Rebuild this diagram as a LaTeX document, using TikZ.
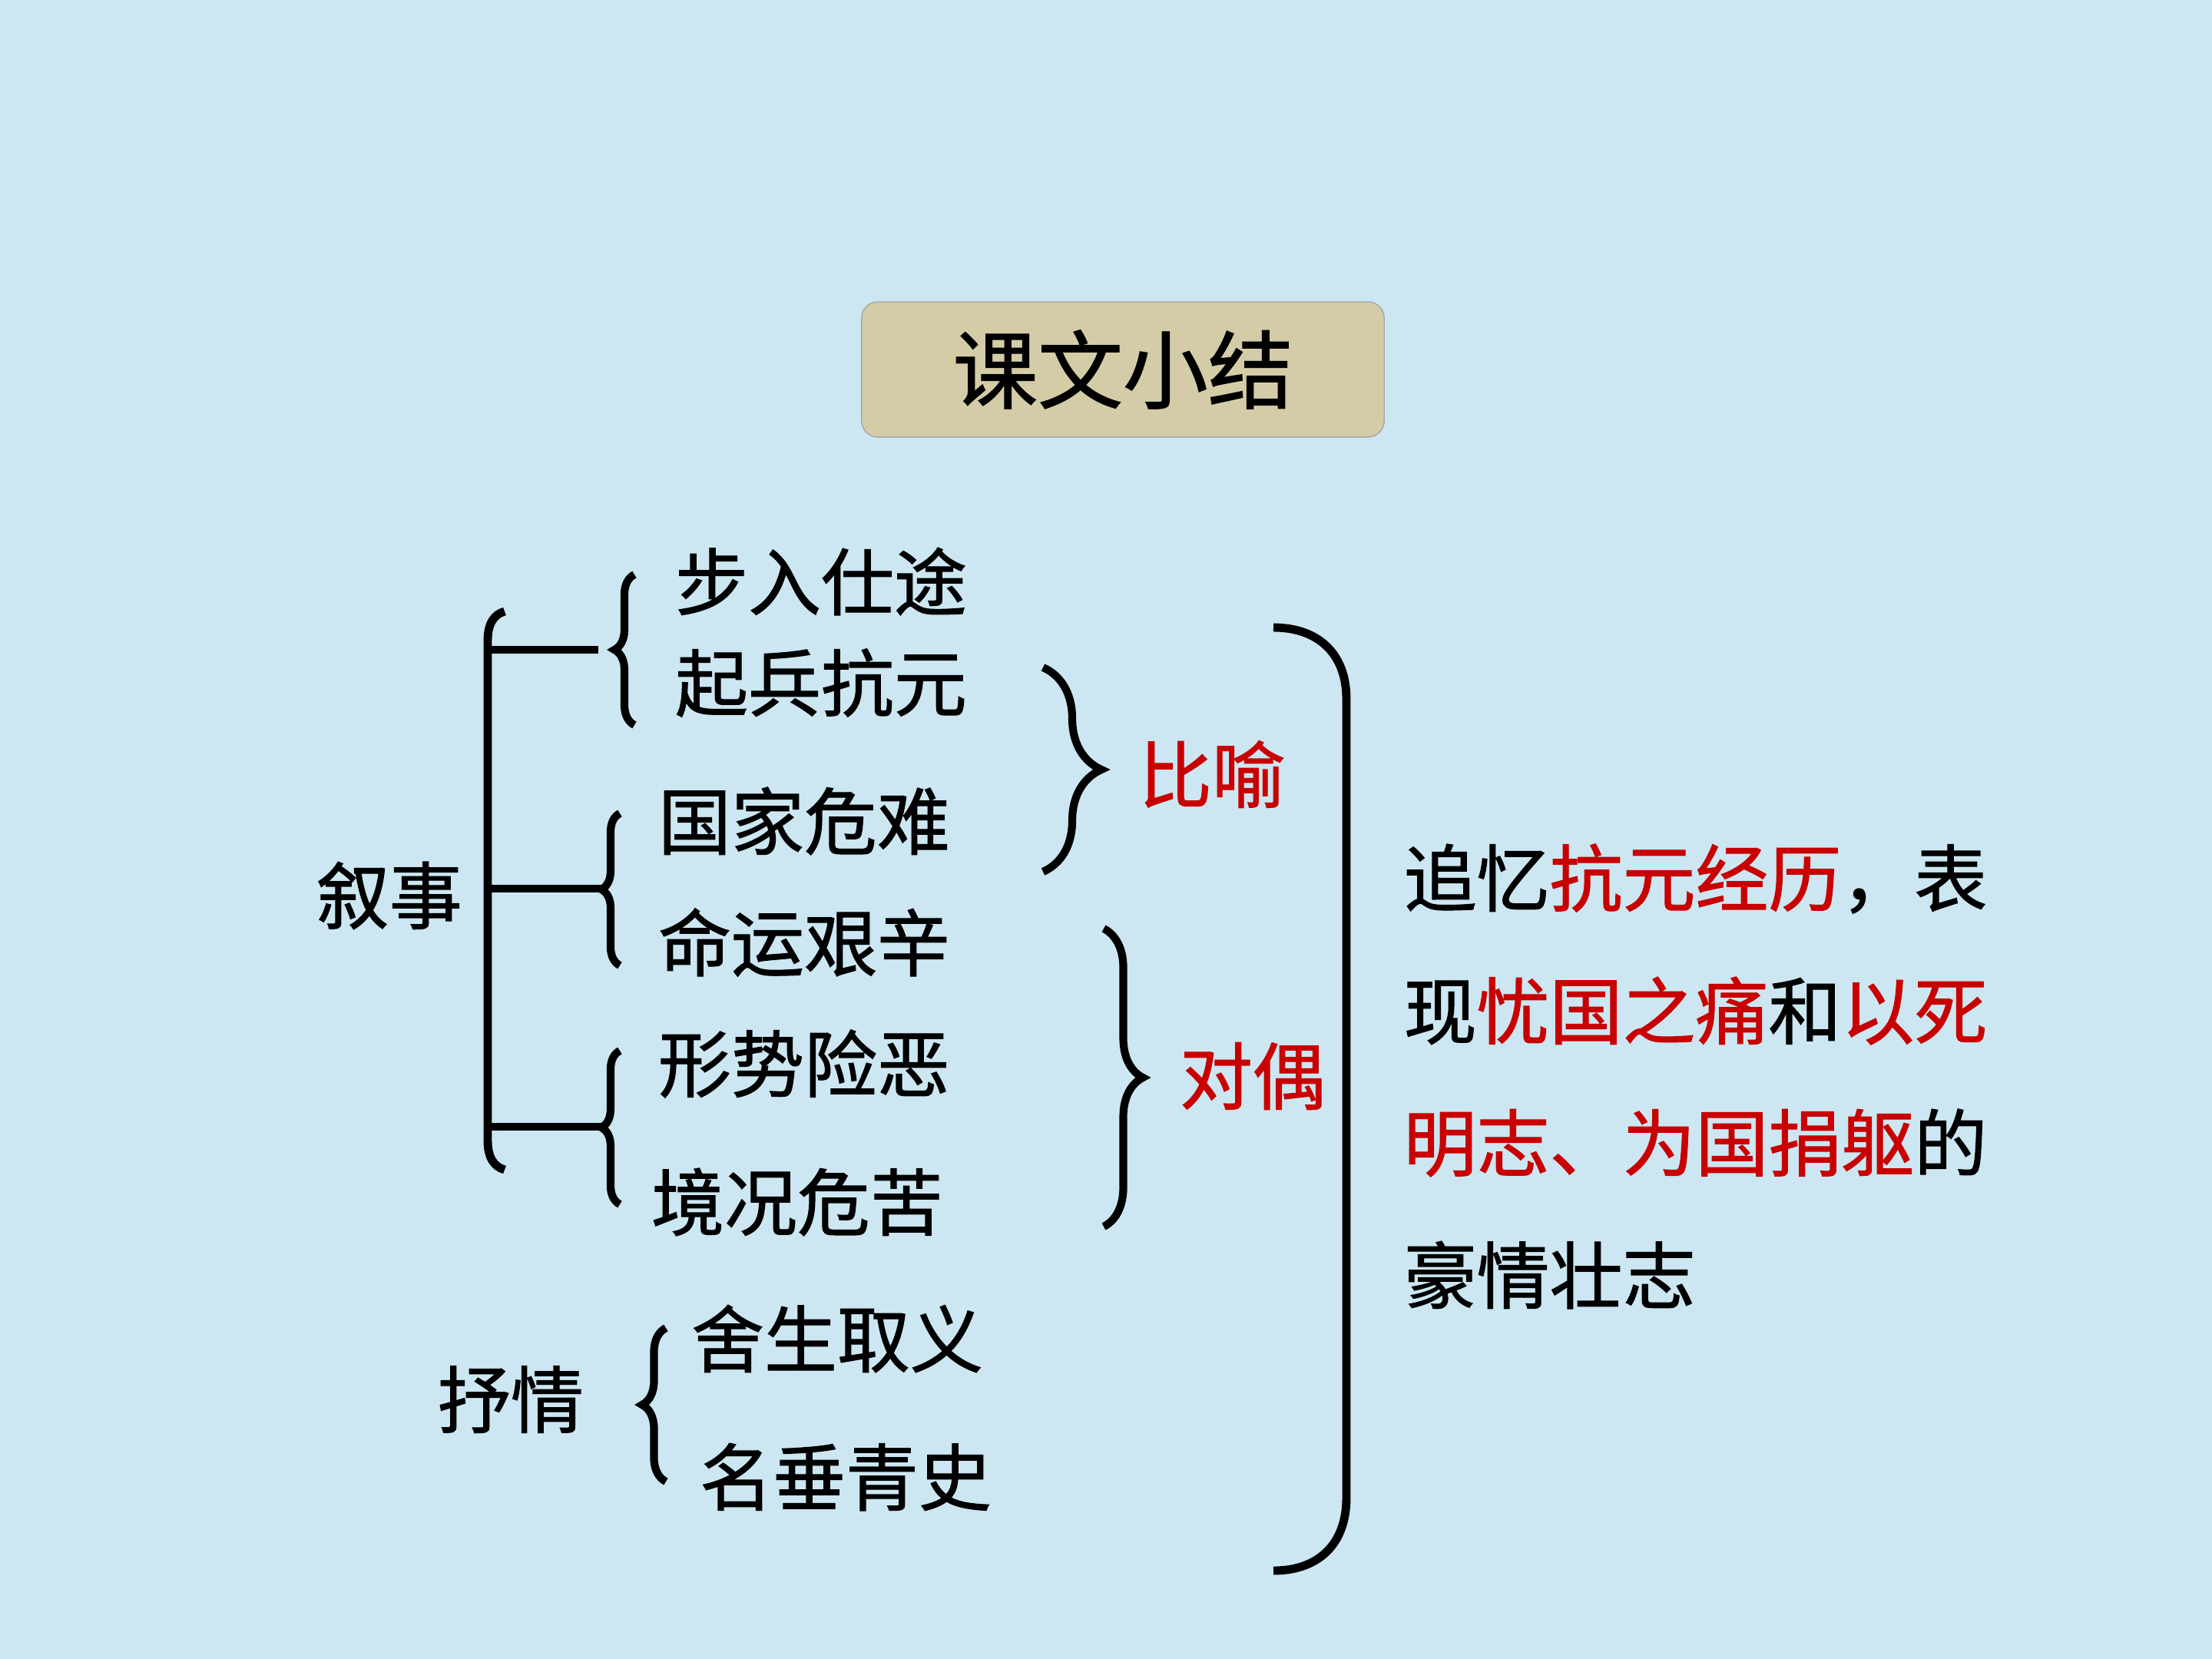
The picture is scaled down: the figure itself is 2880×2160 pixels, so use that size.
\documentclass[tikz,border=0pt]{standalone}
\usepackage{fontspec}
\newfontfamily\cjk{Noto Sans CJK SC}[FakeBold=1.2]
\usetikzlibrary{decorations.pathreplacing,positioning}
\definecolor{paper}{RGB}{204,231,241}
\definecolor{khaki}{RGB}{211,204,166}
\definecolor{hilite}{RGB}{200,0,0}

\begin{document}
\begin{tikzpicture}[
    x=0.01cm, y=-0.01cm,
    every node/.style={font=\cjk\fontsize{27}{32}\selectfont, inner sep=0pt},
    title/.style={draw=gray!70, fill=khaki, rounded corners=6pt, minimum width=6.8cm, minimum height=1.76cm, font=\cjk\fontsize{31.5}{36}\selectfont},
    figure/.style={text=hilite},
    para/.style={anchor=west},
    spine/.style={line width=3.1pt},
    curly/.style={decorate, decoration={brace, amplitude=#1}, line width=2.9pt},
    bigbracket/.style={line width=3.1pt}
]
\fill[paper] (0,0) rectangle (2880,2160);

\node[title] (title) at (1462,481) {课文小结};

% left column
\node (xushi) at (507,1166) {叙事};
\node (shuqing) at (665,1822) {抒情};

\node (buru) at (1069,757) {步入仕途};
\node (qibing) at (1069,889) {起兵抗元};
\node (guojia) at (1047,1069) {国家危难};
\node (mingyun) at (1047,1227) {命运艰辛};
\node (xingshi) at (1047,1385) {形势险恶};
\node (jingkuang) at (1038,1565) {境况危苦};
\node (shesheng) at (1090,1743) {舍生取义};
\node (mingchui) at (1101,1923) {名垂青史};

% figures of speech
\node[figure] (biyu) at (1578,1008) {比喻};
\node[figure] (duiou) at (1631,1401) {对偶};

% summary text
\node[para] (sum1) at (1827,1144) {追忆\textcolor{hilite}{抗元经历}，表};
\node[para] (sum2) at (1827,1316) {现\textcolor{hilite}{忧国之痛}和\textcolor{hilite}{以死}};
\node[para] (sum3) at (1827,1488) {\textcolor{hilite}{明志、为国捐躯}的};
\node[para] (sum4) at (1827,1660) {豪情壮志};

% spine of the narrative part
\coordinate (sp top) at (657,796);
\coordinate (sp bot) at (657,1523);
\draw[spine] (sp top) .. controls (643,800) and (635,812) .. (635,834) -- (635,1485) .. controls (635,1507) and (643,1519) .. (sp bot);

\coordinate (j1) at (635,846);
\coordinate (k1) at (779,846);
\coordinate (j2) at (635,1157);
\coordinate (k2) at (784,1157);
\coordinate (j3) at (635,1467);
\coordinate (k3) at (784,1467);
\draw[spine] (j1) -- (k1);
\draw[spine] (j2) -- (k2);
\draw[spine] (j3) -- (k3);

% braces
\coordinate (b1 lo) at (826,944);
\coordinate (b1 hi) at (826,748);
\coordinate (b2 lo) at (807,1257);
\coordinate (b2 hi) at (807,1059);
\coordinate (b3 lo) at (807,1568);
\coordinate (b3 hi) at (807,1368);
\coordinate (b4 lo) at (867,1929);
\coordinate (b4 hi) at (867,1729);
\draw[curly=0.26cm] (b1 lo) -- (b1 hi);
\draw[curly=0.24cm] (b2 lo) -- (b2 hi);
\draw[curly=0.24cm] (b3 lo) -- (b3 hi);
\draw[curly=0.31cm] (b4 lo) -- (b4 hi);

\coordinate (r1 hi) at (1358,869);
\coordinate (r1 lo) at (1358,1135);
\coordinate (r2 hi) at (1437,1209);
\coordinate (r2 lo) at (1437,1597);
\draw[curly=0.76cm] (r1 hi) -- (r1 lo);
\draw[curly=0.51cm] (r2 hi) -- (r2 lo);

% closing bracket
\coordinate (rb top) at (1658,817);
\coordinate (rb bot) at (1658,2045);
\draw[bigbracket] (rb top) .. controls (1715,817) and (1753,850) .. (1753,910) -- (1753,1950) .. controls (1753,2012) and (1715,2045) .. (rb bot);
\end{tikzpicture}
\end{document}
